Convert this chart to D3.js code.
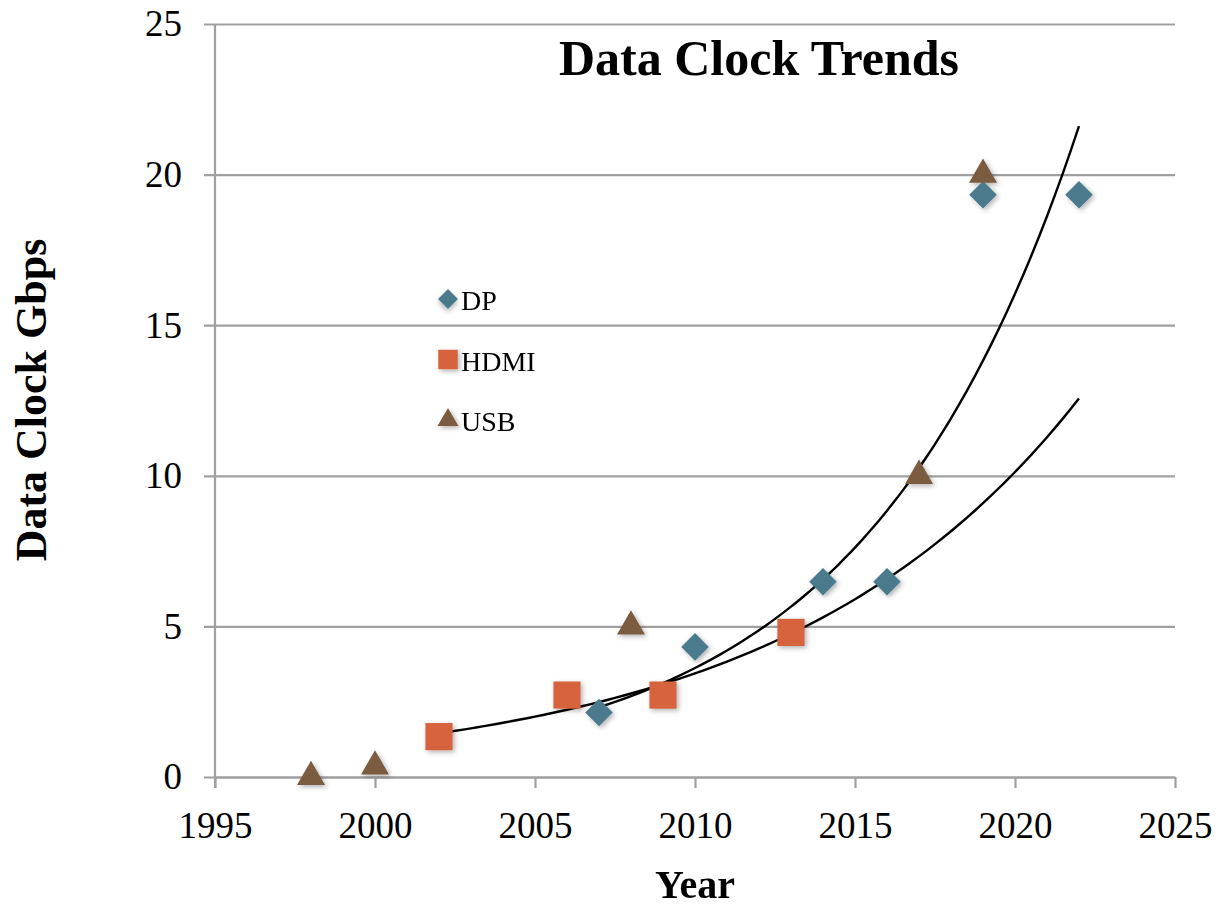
<!DOCTYPE html>
<html lang="en">
<head>
<meta charset="utf-8">
<title>Data Clock Trends</title>
<script src="https://d3js.org/d3.v7.min.js"></script>
<style>
  body {
    margin: 0;
    background: #fff;
    font-family: "Liberation Serif", "Times New Roman", serif;
  }
  svg text { fill: #000; }
</style>
</head>
<body>
<div id="vis"></div>
<script>
  // values
  const dpYears = [2007, 2010, 2014, 2016, 2019, 2022];
  const dpValues = [2.14, 4.32, 6.48, 6.48, 19.33, 19.33];

  const hdmiYears = [2002, 2006, 2009, 2013];
  const hdmiValues = [1.34, 2.72, 2.72, 4.8];

  const usbYears = [1998, 2000, 2008, 2017, 2019];
  const usbValues = [0.0, 0.35, 5.0, 10.0, 20.0];

  const seriesNames = ["DP", "HDMI", "USB"];
  const xTicks = [1995, 2000, 2005, 2010, 2015, 2020, 2025];
  const yTicks = [0, 5, 10, 15, 20, 25];

  const width = 1218;
  const height = 907;
  const margin = { top: 24, right: 43, bottom: 130, left: 215 };

  const colour = d3.scaleOrdinal()
    .domain(seriesNames)
    .range(["#4b7a8c", "#d6633d", "#7b5c3f"]);

  const svg = d3.select('#vis')
    .append('svg')
    .attr('width', width)
    .attr('height', height);

  // soft shadow under the markers
  const defs = svg.append('defs');
  defs.append('filter')
    .attr('id', 'shadow')
    .attr('x', '-50%').attr('y', '-50%')
    .attr('width', '200%').attr('height', '200%')
    .append('feDropShadow')
    .attr('dx', 2).attr('dy', 2)
    .attr('stdDeviation', 2.5)
    .attr('flood-color', '#000')
    .attr('flood-opacity', 0.3);

  const x = d3.scaleLinear()
    .domain([1995, 2025])
    .range([margin.left, width - margin.right]);

  const y = d3.scaleLinear()
    .domain([0, 25])
    .range([height - margin.bottom, margin.top]);

  // horizontal gridlines + y axis
  const yAxis = svg.append('g')
    .attr('transform', `translate(${margin.left},0)`)
    .call(d3.axisLeft(y)
      .tickValues(yTicks)
      .tickSize(-(width - margin.left - margin.right))
      .tickSizeOuter(0)
      .tickPadding(33));
  yAxis.select('.domain').remove();
  yAxis.selectAll('.tick line')
    .attr('x1', -11)
    .attr('stroke', '#a0a0a0')
    .attr('stroke-width', 2.2);
  yAxis.selectAll('.tick text')
    .attr('font-family', '"Liberation Serif", serif')
    .attr('font-size', 37);

  svg.append('line')
    .attr('x1', margin.left).attr('x2', margin.left)
    .attr('y1', y(25)).attr('y2', y(0) + 11)
    .attr('stroke', '#a0a0a0')
    .attr('stroke-width', 2.2);

  // x axis
  const xAxis = svg.append('g')
    .attr('transform', `translate(0,${y(0)})`)
    .call(d3.axisBottom(x)
      .tickValues(xTicks)
      .tickFormat(d3.format('d'))
      .tickSize(11)
      .tickSizeOuter(0)
      .tickPadding(24));
  xAxis.select('.domain')
    .attr('stroke', '#a0a0a0')
    .attr('stroke-width', 2.2);
  xAxis.selectAll('.tick line')
    .attr('stroke', '#a0a0a0')
    .attr('stroke-width', 2.2);
  xAxis.selectAll('.tick text')
    .attr('font-family', '"Liberation Serif", serif')
    .attr('font-size', 37);

  // exponential trendline, least squares on ln(y)
  function expFit(xs, ys) {
    const lx = xs.map(d => d - xs[0]);
    const ly = ys.map(d => Math.log(d));
    const mx = d3.mean(lx), my = d3.mean(ly);
    const sxy = d3.sum(lx, (d, i) => (d - mx) * (ly[i] - my));
    const sxx = d3.sum(lx, d => (d - mx) * (d - mx));
    const b = sxy / sxx;
    const a = Math.exp(my - b * mx);
    return t => a * Math.exp(b * (t - xs[0]));
  }

  const line = d3.line()
    .x(d => x(d[0]))
    .y(d => y(d[1]))
    .curve(d3.curveMonotoneX);

  const trends = [
    { fit: expFit(hdmiYears, hdmiValues), from: 2002, to: 2022 },
    { fit: expFit(dpYears, dpValues), from: 2007, to: 2022 }
  ];

  trends.forEach(tr => {
    const pts = d3.range(tr.from, tr.to + 0.001, 0.25).map(t => [t, tr.fit(t)]);
    svg.append('path')
      .datum(pts)
      .attr('fill', 'none')
      .attr('stroke', '#000')
      .attr('stroke-width', 2.4)
      .attr('d', line);
  });

  // markers
  const shapes = {
    DP: { type: d3.symbolSquare, size: 380, rotate: 45 },
    HDMI: { type: d3.symbolSquare, size: 740, rotate: 0 },
    USB: { type: d3.symbolTriangle, size: 340, rotate: 0 }
  };

  const seriesData = [
    { name: 'DP', years: dpYears, values: dpValues },
    { name: 'HDMI', years: hdmiYears, values: hdmiValues },
    { name: 'USB', years: usbYears, values: usbValues }
  ];

  const marks = svg.append('g').attr('filter', 'url(#shadow)');
  // draw HDMI first, then DP, then USB on top
  [seriesData[1], seriesData[0], seriesData[2]].forEach(s => {
    const sh = shapes[s.name];
    marks.selectAll(null)
      .data(s.years.map((yr, i) => [yr, s.values[i]]))
      .enter()
      .append('path')
      .attr('d', d3.symbol().type(sh.type).size(sh.size))
      .attr('transform', d => `translate(${x(d[0])},${y(d[1])}) rotate(${sh.rotate})`)
      .attr('fill', colour(s.name));
  });

  // legend
  const legendSizes = { DP: 200, HDMI: 380, USB: 190 };
  const legend = svg.append('g')
    .attr('transform', 'translate(448,299)');
  seriesNames.forEach((name, i) => {
    const g = legend.append('g')
      .attr('transform', `translate(0,${i * 60.5})`);
    g.append('path')
      .attr('d', d3.symbol().type(shapes[name].type).size(legendSizes[name]))
      .attr('transform', `rotate(${shapes[name].rotate})`)
      .attr('fill', colour(name))
      .attr('filter', 'url(#shadow)');
    g.append('text')
      .attr('x', 13)
      .attr('y', 11)
      .attr('font-size', 28)
      .text(name);
  });

  // titles
  svg.append('text')
    .attr('x', 759)
    .attr('y', 75)
    .attr('text-anchor', 'middle')
    .attr('font-size', 50)
    .attr('font-weight', 'bold')
    .text('Data Clock Trends');

  svg.append('text')
    .attr('x', (margin.left + width - margin.right) / 2)
    .attr('y', 898)
    .attr('text-anchor', 'middle')
    .attr('font-size', 40)
    .attr('font-weight', 'bold')
    .text('Year');

  svg.append('text')
    .attr('transform', 'translate(46,400) rotate(-90)')
    .attr('text-anchor', 'middle')
    .attr('font-size', 44)
    .attr('font-weight', 'bold')
    .text('Data Clock Gbps');
</script>
</body>
</html>
